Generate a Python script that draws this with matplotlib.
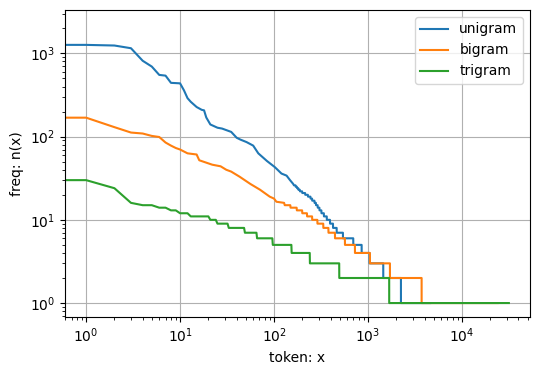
import matplotlib
matplotlib.use('Agg')
import matplotlib.pyplot as plt

# frequent part: rank -> count, read point by point
uni_head_rank = [0, 1, 2, 3, 4, 5, 6, 7, 8, 9, 10, 11, 12, 13, 15, 17, 18, 19, 21, 25,
                 28, 35, 40, 44, 51, 60, 68, 84, 102, 120, 136, 148, 160]
uni_head_freq = [2261, 1267, 1245, 1155, 816, 695, 552, 541, 443, 440, 437, 360, 290, 262,
                 227, 210, 207, 170, 140, 128, 125, 114, 97, 92, 86, 78, 63, 51, 43, 36,
                 34, 30, 27]
# rare part: first rank of each run of equal count
uni_run_start = [163, 170, 176, 182, 189, 200, 215, 230, 245, 255, 270, 280, 292, 305, 320,
                 340, 365, 395, 425, 465, 542, 698, 857, 1040, 1455, 2244]
uni_run_freq = [26, 25, 24, 23, 22, 21, 20, 19, 18, 17, 16, 15, 14, 13, 12,
                11, 10, 9, 8, 7, 6, 5, 4, 3, 2, 1]
uni_last = 4580

bi_head_rank = [0, 1, 2, 3, 4, 5, 6, 7, 8, 9, 10, 12, 15, 16, 22, 27, 31, 35, 43, 56,
                71, 90, 100, 106, 128]
bi_head_freq = [309, 169, 130, 112, 109, 102, 99, 85, 78, 73, 70, 63, 61, 52, 46, 44, 40,
                38, 33, 27, 23, 19, 18, 16.5, 16]
bi_run_start = [130, 150, 175, 200, 225, 255, 290, 335, 380, 446, 569, 727, 1050, 1714, 3725]
bi_run_freq = [15, 14, 13, 12, 11, 10, 9, 8, 7, 6, 5, 4, 3, 2, 1]
bi_last = 24000

tri_head_rank = [0, 1, 2, 3, 4, 5, 6, 7, 8, 9]
tri_head_freq = [59, 30, 24, 16, 15, 15, 14, 14, 13, 13]
tri_run_start = [10, 13, 21, 25, 33, 49, 66, 97, 154, 241, 495, 1683]
tri_run_freq = [12, 11, 10, 9, 8, 7, 6, 5, 4, 3, 2, 1]
tri_last = 31600


def build(head_rank, head_freq, run_start, run_freq, last):
    xs = list(head_rank)
    ys = list(head_freq)
    ends = run_start[1:] + [last + 1]
    for s, e, f in zip(run_start, ends, run_freq):
        xs += [s, e - 1]
        ys += [f, f]
    return xs, ys


fig = plt.figure(figsize=(5.39, 3.75), dpi=100)
ax = fig.add_axes([65 / 539, 1 - 317 / 375, 465 / 539, 307 / 375])

for args, name in [((uni_head_rank, uni_head_freq, uni_run_start, uni_run_freq, uni_last), 'unigram'),
                   ((bi_head_rank, bi_head_freq, bi_run_start, bi_run_freq, bi_last), 'bigram'),
                   ((tri_head_rank, tri_head_freq, tri_run_start, tri_run_freq, tri_last), 'trigram')]:
    xs, ys = build(*args)
    ax.plot(xs, ys, label=name)

ax.set_xscale('log')
ax.set_yscale('log')
ax.set_xlabel('token: x')
ax.set_ylabel('freq: n(x)')
ax.legend()
ax.grid()

fig.savefig('out.png')
